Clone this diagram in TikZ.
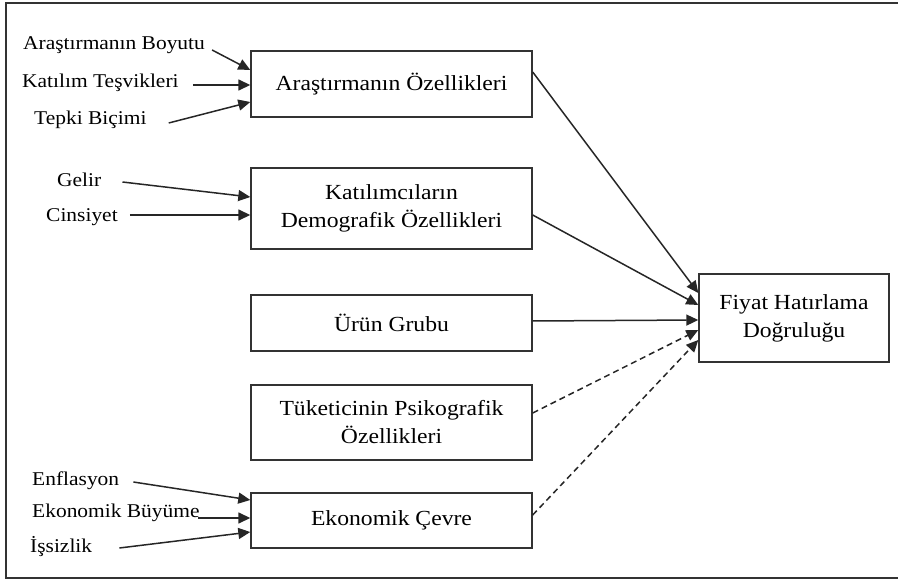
\documentclass[tikz,border=0pt]{standalone}
\usepackage{fontspec}
\setmainfont[FakeStretch=1.1]{Liberation Serif}
\usetikzlibrary{arrows.meta}

\begin{document}
\begin{tikzpicture}[x=1pt, y=-1pt,
  box/.style={draw=black!80, line width=1.4pt, align=center, inner sep=0pt,
    font=\fontsize{21.5}{28}\selectfont},
  lab/.style={anchor=west, inner sep=0pt, font=\fontsize{19.5}{22}\selectfont},
  arr/.style={draw=black!85, line width=1.5pt, -{Triangle[length=12pt,width=11pt]}},
  dsh/.style={arr, dash pattern=on 6pt off 4pt}]
	\useasboundingbox (0,0) rectangle (898,580);
	\draw[line width=1.3pt, black!80] (898,3) -- (6,3) -- (6,578) -- (898,578);
%
	\node[box, minimum width=281pt, minimum height=66pt] (ozel) at (391.5,84) {Araştırmanın Özellikleri};
	\node[box, minimum width=281pt, minimum height=81pt] (demo) at (391.5,208.5) {Katılımcıların\\Demografik Özellikleri};
	\node[box, minimum width=281pt, minimum height=56pt] (urun) at (391.5,323) {Ürün Grubu};
	\node[box, minimum width=281pt, minimum height=75pt] (psiko) at (391.5,422.5) {Tüketicinin Psikografik\\Özellikleri};
	\node[box, minimum width=281pt, minimum height=55pt] (cevre) at (391.5,520.5) {Ekonomik Çevre};
	\node[box, minimum width=190pt, minimum height=88pt] (fiyat) at (794,318) {Fiyat Hatırlama\\Doğruluğu};
%
	\node[lab] (boyut) at (23,45) {Araştırmanın Boyutu};
	\node[lab] (tesvik) at (22,83) {Katılım Teşvikleri};
	\node[lab] (tepki) at (34,120) {Tepki Biçimi};
	\node[lab] (gelir) at (57,180) {Gelir};
	\node[lab] (cins) at (46,217) {Cinsiyet};
	\node[lab] (enf) at (32,481) {Enflasyon};
	\node[lab] (buyume) at (32,513) {Ekonomik Büyüme};
	\node[lab] (issiz) at (30,547) {İşsizlik};
%
	\draw[arr] ([xshift=7pt,yshift=-5pt]boyut.east) -- ([yshift=14pt]ozel.west);
	\draw[arr] ([xshift=14pt,yshift=-2pt]tesvik.east) -- ([yshift=-1pt]ozel.west);
	\draw[arr] ([xshift=22pt,yshift=-3pt]tepki.east) -- ([yshift=-18pt]ozel.west);
	\draw[arr] ([xshift=21pt,yshift=-2pt]gelir.east) -- ([yshift=11.5pt]demo.west);
	\draw[arr] ([xshift=12pt,yshift=2pt]cins.east) -- ([yshift=-6.5pt]demo.west);
	\draw[arr] ([xshift=14pt,yshift=-1pt]enf.east) -- ([yshift=20.5pt]cevre.west);
	\draw[arr] ([xshift=-2pt,yshift=-5pt]buyume.east) -- ([yshift=2.5pt]cevre.west);
	\draw[arr] ([xshift=27pt,yshift=-1pt]issiz.east) -- ([yshift=-11.5pt]cevre.west);
%
	\draw[arr] ([yshift=12pt]ozel.east) -- ([yshift=25pt]fiyat.west);
	\draw[arr] ([yshift=-6.5pt]demo.east) -- ([yshift=13pt]fiyat.west);
	\draw[arr] ([yshift=2pt]urun.east) -- ([yshift=-2pt]fiyat.west);
	\draw[dsh] ([yshift=9.5pt]psiko.east) -- ([yshift=-12pt]fiyat.west);
	\draw[dsh] ([yshift=5.5pt]cevre.east) -- ([yshift=-22pt]fiyat.west);
\end{tikzpicture}
\end{document}
